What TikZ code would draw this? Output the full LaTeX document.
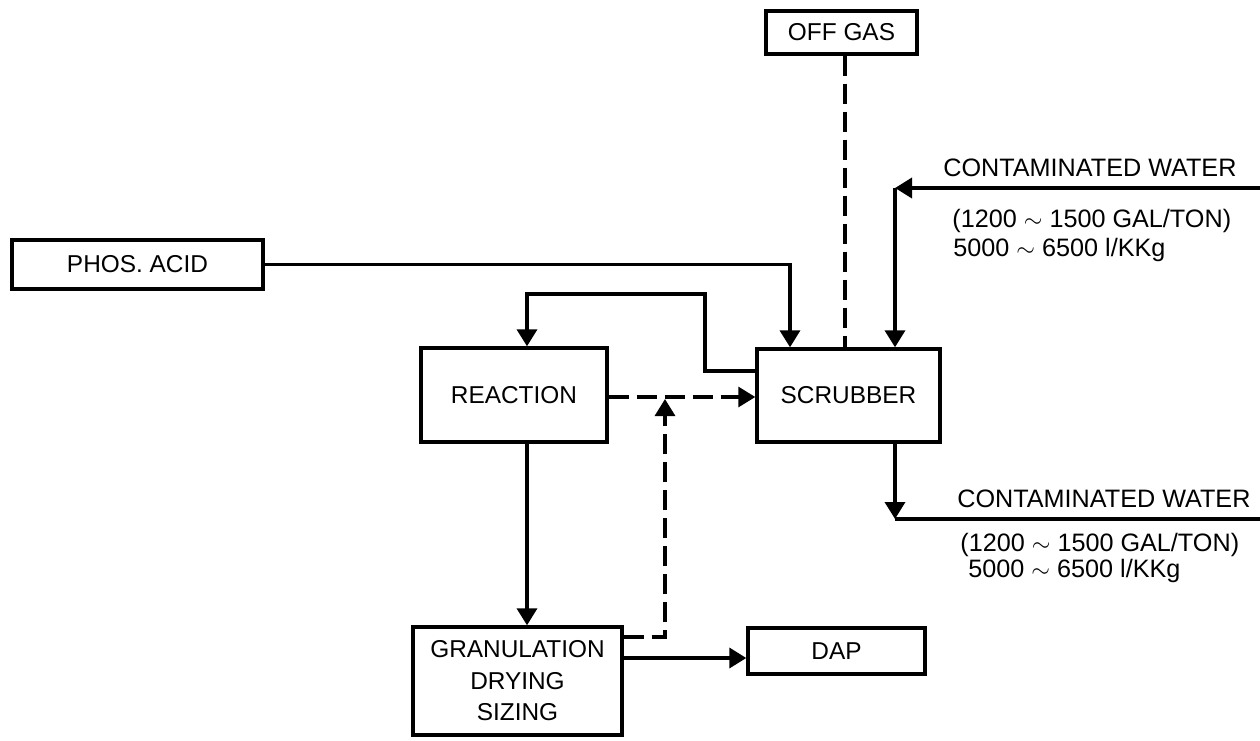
\documentclass[tikz,border=0pt]{standalone}
\usepackage{fontspec}
\setmainfont{Liberation Sans}
\usetikzlibrary{arrows.meta}
\begin{document}
\begin{tikzpicture}[x=0.5pt,y=-0.5pt,
  box/.style={draw,line width=1.7pt,inner sep=0pt,font=\fontsize{12.2}{15.75}\selectfont,align=center},
  flow/.style={line width=1.8pt,-{Triangle[length=8.5pt,width=10pt]}},
  plain/.style={line width=1.8pt},
  gas/.style={line width=1.6pt,dash pattern=on 10pt off 4pt},
  gasflow/.style={gas,-{Triangle[length=8.5pt,width=10pt]}},
  lbl/.style={anchor=base west,inner sep=0pt,font=\fontsize{12.6}{15}\selectfont}]
\useasboundingbox (0,0) rectangle (1260,740);
% boxes
\node[box,minimum width=75.5pt,minimum height=21.5pt] (offgas) at (841.5,32.5) {OFF GAS};
\node[box,minimum width=125.5pt,minimum height=24.5pt] (phos) at (137.5,264.5) {PHOS. ACID};
\node[box,minimum width=93pt,minimum height=47pt] (reaction) at (514,395) {REACTION};
\node[box,minimum width=91.5pt,minimum height=46.5pt] (scrubber) at (848.5,395.5) {SCRUBBER};
\node[box,minimum width=104.5pt,minimum height=54pt] (gran) at (517.5,681) {GRANULATION\\DRYING\\SIZING};
\node[box,minimum width=88.5pt,minimum height=23pt] (dap) at (836.5,651) {DAP};
% free ends
\coordinate (win) at (1260,188);
\coordinate (wcorner) at (895,188);
\coordinate (wdown) at (895,519);
\coordinate (wout) at (1260,519);
% connectors
\draw[flow] (phos.east) -| (790,0 |- scrubber.north);
\draw[flow] (scrubber.west |- 0,371) -| (705,294) -| (527,0 |- reaction.north);
\draw[gas] (845,0 |- offgas.south) -- (845,0 |- scrubber.north);
\draw[flow] (win) -- (wcorner);
\draw[flow] (wcorner) -- (wcorner |- scrubber.north);
\draw[gasflow] (reaction.east |- 0,397) -- (scrubber.west |- 0,397);
\draw[gasflow] (gran.east |- 0,637) -| (665,399);
\draw[flow] (527,0 |- reaction.south) -- (527,0 |- gran.north);
\draw[flow] (gran.east |- 0,658) -- (dap.west |- 0,658);
\draw[flow] (895,0 |- scrubber.south) -- (wdown);
\draw[plain] (wdown) -- (wout);
% labels
\node[lbl] (t1) at (943,176) {CONTAMINATED WATER};
\node[lbl] (t2) at (952,227) {(1200 $\sim$ 1500 GAL/TON)};
\node[lbl] (t3) at (953,256) {5000 $\sim$ 6500 l/KKg};
\node[lbl] (b1) at (957,507) {CONTAMINATED WATER};
\node[lbl] (b2) at (960,551) {(1200 $\sim$ 1500 GAL/TON)};
\node[lbl] (b3) at (968,577) {5000 $\sim$ 6500 l/KKg};
\end{tikzpicture}
\end{document}
